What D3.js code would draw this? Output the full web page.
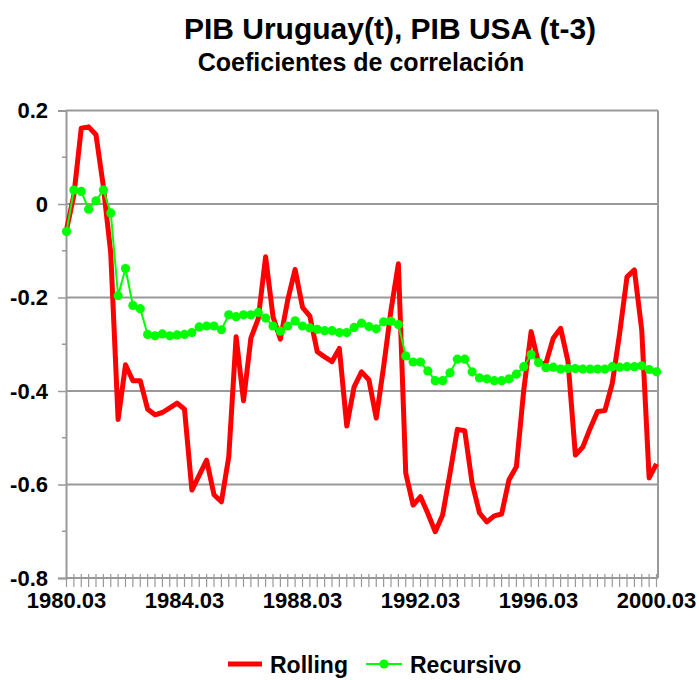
<!DOCTYPE html>
<html><head><meta charset="utf-8">
<script src="https://cdn.jsdelivr.net/npm/d3@7"></script>
<style>
body{margin:0;background:#fff;}
svg{display:block;font-family:"Liberation Sans",Arial,sans-serif;}
</style></head>
<body><svg id="c" width="699" height="680"></svg>
<script>
const title = "PIB Uruguay(t), PIB USA (t-3)";
const subtitle = "Coeficientes de correlación";
const seriesNames = ["Rolling", "Recursivo"];
const tickLabels = ["1980.03","1984.03","1988.03","1992.03","1996.03","2000.03"];
const yTicks = [0.2, 0, -0.2, -0.4, -0.6, -0.8];

const rolling = [-0.055,0.019,0.162,0.165,0.148,0.037,-0.105,-0.461,-0.344,-0.378,
-0.378,-0.439,-0.451,-0.446,-0.436,-0.426,-0.439,-0.612,-0.580,-0.548,
-0.622,-0.637,-0.541,-0.284,-0.421,-0.287,-0.245,-0.113,-0.241,-0.289,
-0.205,-0.140,-0.221,-0.240,-0.316,-0.327,-0.337,-0.309,-0.475,-0.391,
-0.359,-0.376,-0.458,-0.348,-0.227,-0.128,-0.576,-0.644,-0.626,-0.662,
-0.701,-0.665,-0.576,-0.482,-0.485,-0.597,-0.661,-0.680,-0.667,-0.663,
-0.590,-0.562,-0.398,-0.273,-0.341,-0.341,-0.287,-0.266,-0.337,-0.537,
-0.520,-0.480,-0.444,-0.442,-0.384,-0.277,-0.156,-0.141,-0.270,-0.586,
-0.556];

const recursivo = [-0.059,0.030,0.027,-0.011,0.007,0.030,-0.019,-0.196,-0.138,-0.217,
-0.224,-0.279,-0.282,-0.278,-0.282,-0.280,-0.279,-0.275,-0.263,-0.261,
-0.261,-0.269,-0.237,-0.241,-0.237,-0.237,-0.232,-0.244,-0.261,-0.272,
-0.261,-0.250,-0.261,-0.265,-0.268,-0.271,-0.271,-0.275,-0.275,-0.264,
-0.255,-0.262,-0.267,-0.252,-0.251,-0.258,-0.325,-0.338,-0.338,-0.357,
-0.378,-0.378,-0.361,-0.332,-0.332,-0.359,-0.372,-0.374,-0.378,-0.378,
-0.374,-0.364,-0.348,-0.322,-0.339,-0.350,-0.349,-0.353,-0.352,-0.352,
-0.353,-0.353,-0.353,-0.353,-0.348,-0.349,-0.348,-0.348,-0.346,-0.354,
-0.359];

// quarterly categories 1980.03 ... 2000.03
const months = ["03","06","09","12"];
const categories = [];
for (let y = 1980; y <= 2000; y++) for (const m of months) {
  if (categories.length < rolling.length) categories.push(y + "." + m);
}

const svg = d3.select("#c");
const L = 66, R = 658, T = 110.5, B = 578;
const x = d3.scalePoint().domain(categories).range([66.5, 656.5]);
const y = d3.scaleLinear().domain([-0.8, 0.2]).range([B, T]);
const grey = "#999999";

// titles
svg.append("text").attr("x", 390).attr("y", 39).attr("text-anchor","middle")
  .attr("font-size", 30).attr("font-weight","bold").text(title);
svg.append("text").attr("x", 361).attr("y", 71).attr("text-anchor","middle")
  .attr("font-size", 25).attr("font-weight","bold").text(subtitle);

// gridlines
svg.append("g").selectAll("line").data(yTicks.filter(d => d > -0.8)).join("line")
  .attr("x1", L).attr("x2", R).attr("y1", d => y(d)).attr("y2", d => y(d))
  .attr("stroke", grey).attr("stroke-width", 2);
// right border
svg.append("line").attr("x1", R).attr("x2", R).attr("y1", T).attr("y2", B)
  .attr("stroke", grey).attr("stroke-width", 2);

// y axis
const yAxis = d3.axisLeft(y).tickValues(yTicks).tickSize(8).tickPadding(10)
  .tickFormat(d => d === 0 ? "0" : d3.format(".1f")(d).replace("\u2212", "-"));
const gy = svg.append("g").attr("transform", `translate(${L},0)`).call(yAxis);
gy.select(".domain").attr("stroke", grey).attr("stroke-width", 2);
gy.selectAll(".tick line").attr("stroke", grey).attr("stroke-width", 1.5);
gy.selectAll(".tick text").attr("font-size", 22).attr("font-weight","bold")
  .attr("fill","#000").attr("font-family",'"Liberation Sans",Arial,sans-serif');
// minor y ticks
const minorY = d3.range(-0.7, 0.2, 0.2);
svg.append("g").selectAll("line").data(minorY).join("line")
  .attr("x1", L - 4).attr("x2", L + 1).attr("y1", d => y(d)).attr("y2", d => y(d))
  .attr("stroke", grey).attr("stroke-width", 1.5);

// x axis
svg.append("line").attr("x1", L).attr("x2", R).attr("y1", B).attr("y2", B)
  .attr("stroke", grey).attr("stroke-width", 2);
svg.append("g").selectAll("line").data(categories).join("line")
  .attr("x1", d => x(d)).attr("x2", d => x(d)).attr("y1", B - 4).attr("y2", B + 9)
  .attr("stroke", grey).attr("stroke-width", 1.2);
svg.append("g").selectAll("text").data(tickLabels).join("text")
  .attr("x", d => x(d)).attr("y", 608).attr("text-anchor","middle")
  .attr("font-size", 22).attr("font-weight","bold").text(d => d);

// series
const line = d3.line().x((d, i) => x(categories[i])).y(d => y(d));
svg.append("path").datum(rolling).attr("d", line).attr("fill","none")
  .attr("stroke","#FF0000").attr("stroke-width", 5).attr("stroke-linejoin","round");
svg.append("path").datum(recursivo).attr("d", line).attr("fill","none")
  .attr("stroke","#00FF00").attr("stroke-width", 2);
svg.append("g").selectAll("circle").data(recursivo).join("circle")
  .attr("cx", (d, i) => x(categories[i])).attr("cy", d => y(d)).attr("r", 4.6)
  .attr("fill","#00FF00");

// legend
const lg = svg.append("g");
lg.append("line").attr("x1", 228).attr("x2", 262).attr("y1", 664).attr("y2", 664)
  .attr("stroke","#FF0000").attr("stroke-width", 5);
lg.append("text").attr("x", 270).attr("y", 673).attr("font-size", 23).attr("font-weight","bold").text(seriesNames[0]);
lg.append("line").attr("x1", 366).attr("x2", 402).attr("y1", 664).attr("y2", 664)
  .attr("stroke","#00FF00").attr("stroke-width", 2);
lg.append("circle").attr("cx", 384).attr("cy", 664).attr("r", 4.6).attr("fill","#00FF00");
lg.append("text").attr("x", 410).attr("y", 673).attr("font-size", 23).attr("font-weight","bold").text(seriesNames[1]);
</script></body></html>
